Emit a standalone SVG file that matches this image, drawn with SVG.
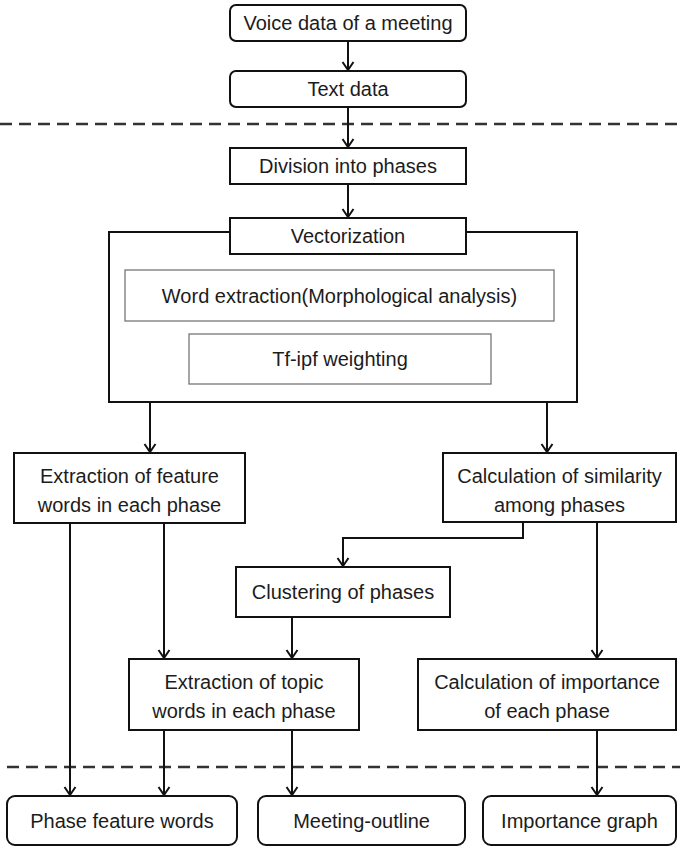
<svg xmlns="http://www.w3.org/2000/svg" width="680" height="847" viewBox="0 0 680 847">
  <style>
    .box { fill: #fff; stroke: #111; stroke-width: 2; }
    .sub { fill: #fff; stroke: #777; stroke-width: 1.3; }
    .lbl { font-family: "Liberation Sans", Arial, sans-serif; font-size: 20px; fill: #1c1c1c; text-anchor: middle; }
    .sep { stroke: #333; stroke-width: 2.5; stroke-dasharray: 12 7; fill: none; }
    .edge { stroke: #111; stroke-width: 2; fill: none; marker-end: url(#arrow); }
  </style>
  <defs>
    <!-- open chevron head, tip at the end of the line -->
    <marker id="arrow" viewBox="0 0 12 12" refX="11" refY="6" markerWidth="12" markerHeight="12" markerUnits="userSpaceOnUse" orient="auto" overflow="visible">
      <path d="M3,0.5 L11,6 L3,11.5" fill="none" stroke="#111" stroke-width="2"/>
    </marker>
  </defs>

  <rect width="680" height="847" fill="#fff"/>

  <!-- phase separators -->
  <g id="separators">
    <line class="sep" x1="0" y1="124" x2="680" y2="124"/>
    <line class="sep" x1="7" y1="767" x2="680" y2="767"/>
  </g>

  <!-- vectorization container -->
  <g id="vectorization-group">
    <rect class="box" x="109" y="232" width="468" height="170"/>
    <g id="word-extraction">
      <rect class="sub" x="125" y="270" width="429" height="51"/>
      <text class="lbl" x="339.5" y="303">Word extraction(Morphological  analysis)</text>
    </g>
    <g id="tfipf">
      <rect class="sub" x="189" y="334" width="302" height="50"/>
      <text class="lbl" x="340" y="366">Tf-ipf weighting</text>
    </g>
  </g>

  <!-- connectors -->
  <g id="connectors">
    <line class="edge" x1="348" y1="41" x2="348" y2="70"/>
    <line class="edge" x1="348" y1="107" x2="348" y2="147"/>
    <line class="edge" x1="348" y1="184" x2="348" y2="217"/>
    <line class="edge" x1="150" y1="402" x2="150" y2="452"/>
    <line class="edge" x1="547" y1="402" x2="547" y2="452"/>
    <line class="edge" x1="70" y1="523" x2="70" y2="795"/>
    <line class="edge" x1="164" y1="523" x2="164" y2="658"/>
    <polyline class="edge" points="523,522 523,538 343,538 343,566"/>
    <line class="edge" x1="597" y1="522" x2="597" y2="658"/>
    <line class="edge" x1="292" y1="617" x2="292" y2="658"/>
    <line class="edge" x1="164" y1="730" x2="164" y2="795"/>
    <line class="edge" x1="292" y1="730" x2="292" y2="795"/>
    <line class="edge" x1="597" y1="730" x2="597" y2="795"/>
  </g>

  <g id="voice-data">
    <rect class="box" x="230" y="5" width="236" height="36" rx="6"/>
    <text class="lbl" x="348" y="30">Voice data of a meeting</text>
  </g>
  <g id="text-data">
    <rect class="box" x="230" y="71" width="236" height="36" rx="6"/>
    <text class="lbl" x="348" y="96">Text data</text>
  </g>
  <g id="division">
    <rect class="box" x="230" y="148" width="236" height="36"/>
    <text class="lbl" x="348" y="173">Division into phases</text>
  </g>
  <g id="vectorization">
    <rect class="box" x="230" y="218" width="236" height="36"/>
    <text class="lbl" x="348" y="243">Vectorization</text>
  </g>
  <g id="feature-extraction">
    <rect class="box" x="14" y="453" width="231" height="70"/>
    <text class="lbl" x="129.5" y="483">Extraction of  feature</text>
    <text class="lbl" x="129.5" y="512">words in each phase</text>
  </g>
  <g id="similarity">
    <rect class="box" x="443" y="453" width="233" height="69"/>
    <text class="lbl" x="559.5" y="483">Calculation of similarity</text>
    <text class="lbl" x="559.5" y="512">among phases</text>
  </g>
  <g id="clustering">
    <rect class="box" x="236" y="567" width="214" height="50"/>
    <text class="lbl" x="343" y="599">Clustering of phases</text>
  </g>
  <g id="topic-extraction">
    <rect class="box" x="129" y="659" width="230" height="71"/>
    <text class="lbl" x="244" y="689">Extraction of topic</text>
    <text class="lbl" x="244" y="718">words in each phase</text>
  </g>
  <g id="importance-calc">
    <rect class="box" x="418" y="659" width="258" height="71"/>
    <text class="lbl" x="547" y="689">Calculation of importance</text>
    <text class="lbl" x="547" y="718">of each phase</text>
  </g>
  <g id="phase-feature-words">
    <rect class="box" x="7" y="796" width="230" height="49" rx="8"/>
    <text class="lbl" x="122" y="828">Phase feature words</text>
  </g>
  <g id="meeting-outline">
    <rect class="box" x="258" y="796" width="207" height="49" rx="8"/>
    <text class="lbl" x="361.5" y="828">Meeting-outline</text>
  </g>
  <g id="importance-graph">
    <rect class="box" x="483" y="796" width="193" height="49" rx="8"/>
    <text class="lbl" x="579.5" y="828">Importance graph</text>
  </g>
</svg>
